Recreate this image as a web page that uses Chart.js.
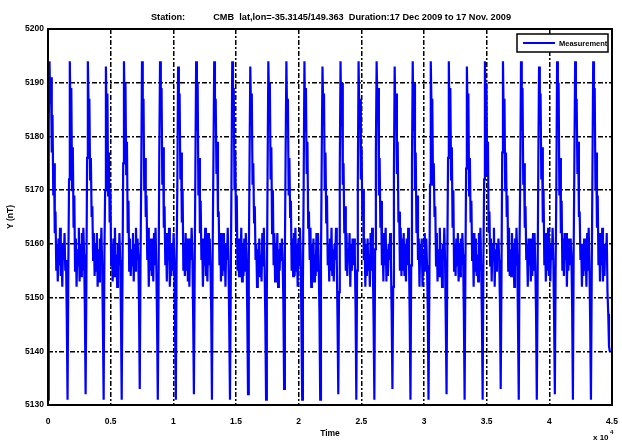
<!DOCTYPE html>
<html>
<head>
<meta charset="utf-8">
<script src="https://cdn.jsdelivr.net/npm/chart.js@4.4.0/dist/chart.umd.min.js"></script>
<style>
  html, body { margin: 0; padding: 0; background: #fff; }
  #wrap { width: 622px; height: 443px; }
</style>
</head>
<body>
<div id="wrap"><canvas id="myChart" width="622" height="443"></canvas></div>
<script>
// one sample per hour (nT)
const stepMinutes = 60;
const measurementY = [
  // day 0
  5131,5183,5194,5186,5191,5177,5184,5169,5175,5162,5166,5155,5160,5153,5161,5156,5163,5154,5158,5152,5160,5157,5162,5155,
  // day 1
  5157,5146,5131,5155,5172,5194,5182,5189,5170,5178,5163,5169,5155,5161,5152,5159,5156,5163,5153,5160,5154,5162,5155,5163,
  5158,5148,5132,5152,5176,5194,5185,5187,5172,5176,5165,5167,5157,5162,5154,5160,5155,5162,5152,5159,5153,5161,5157,5163,
  5156,5145,5131,5158,5170,5193,5181,5188,5169,5177,5164,5170,5156,5160,5153,5161,5154,5163,5155,5158,5152,5160,5156,5162,
  5157,5147,5131,5153,5175,5194,5184,5190,5173,5179,5162,5168,5155,5161,5154,5159,5156,5162,5153,5160,5155,5163,5157,5161,
  // day 5
  5158,5149,5133,5156,5173,5194,5182,5187,5170,5176,5165,5169,5157,5163,5152,5160,5155,5161,5154,5159,5153,5162,5156,5163,
  5156,5146,5131,5151,5177,5194,5186,5189,5171,5178,5163,5167,5156,5162,5153,5161,5157,5163,5152,5158,5154,5160,5155,5162,
  5157,5144,5131,5157,5171,5193,5183,5188,5172,5177,5164,5170,5155,5160,5154,5162,5155,5161,5153,5160,5152,5161,5157,5163,
  5158,5147,5132,5154,5174,5194,5181,5190,5169,5176,5162,5168,5157,5161,5152,5159,5156,5163,5154,5158,5153,5162,5156,5161,
  5156,5148,5131,5159,5176,5194,5185,5187,5173,5179,5165,5166,5156,5162,5153,5160,5154,5162,5155,5159,5152,5160,5157,5163,
  // day 10
  5157,5145,5131,5152,5172,5194,5182,5189,5170,5177,5163,5169,5155,5161,5154,5161,5156,5163,5153,5160,5154,5161,5155,5162,
  5158,5147,5132,5156,5175,5193,5184,5188,5171,5175,5164,5167,5157,5160,5152,5159,5155,5161,5154,5158,5153,5162,5156,5163,
  5156,5146,5131,5150,5173,5194,5186,5190,5172,5178,5162,5170,5156,5162,5153,5160,5157,5162,5152,5159,5155,5160,5157,5161,
  5157,5149,5133,5158,5177,5194,5183,5187,5169,5176,5165,5168,5155,5161,5154,5162,5154,5163,5155,5160,5152,5161,5156,5163,
  5158,5145,5131,5153,5171,5194,5181,5189,5173,5179,5163,5166,5157,5163,5152,5160,5156,5161,5153,5158,5154,5162,5155,5162,
  // day 15
  5156,5147,5131,5157,5176,5193,5185,5188,5170,5177,5164,5169,5156,5160,5153,5161,5155,5163,5154,5159,5153,5160,5157,5163,
  5157,5146,5132,5151,5174,5194,5182,5190,5171,5175,5162,5167,5155,5162,5154,5159,5157,5162,5152,5160,5155,5161,5156,5161,
  5158,5148,5131,5155,5172,5194,5184,5187,5172,5178,5165,5170,5157,5161,5152,5160,5154,5161,5155,5158,5152,5162,5155,5163,
  5156,5145,5131,5159,5177,5194,5186,5189,5169,5176,5163,5168,5156,5160,5153,5162,5156,5163,5153,5159,5154,5160,5157,5162,
  5157,5147,5133,5152,5173,5193,5183,5188,5173,5179,5164,5166,5155,5163,5154,5161,5155,5162,5154,5160,5153,5161,5156,5163,
  // day 20
  5158,5146,5131,5156,5175,5194,5181,5190,5170,5177,5162,5169,5157,5161,5152,5160,5157,5161,5152,5158,5155,5162,5155,5161,
  5156,5148,5131,5150,5171,5194,5185,5187,5171,5175,5165,5167,5156,5162,5153,5159,5154,5163,5155,5159,5152,5160,5157,5163,
  5157,5145,5132,5158,5176,5194,5182,5189,5172,5178,5163,5170,5155,5160,5154,5161,5156,5162,5153,5160,5154,5161,5156,5162,
  5158,5147,5131,5154,5174,5193,5184,5188,5169,5176,5164,5168,5157,5162,5152,5162,5155,5161,5154,5158,5153,5162,5155,5163,
  5156,5146,5131,5157,5172,5194,5186,5190,5173,5179,5162,5166,5156,5161,5153,5160,5157,5163,5152,5159,5155,5160,5157,5161,
  // day 25
  5157,5149,5133,5153,5177,5194,5183,5187,5170,5177,5165,5169,5155,5163,5154,5159,5154,5162,5155,5160,5152,5161,5156,5163,
  5158,5145,5131,5159,5173,5194,5181,5189,5171,5175,5163,5167,5157,5160,5152,5161,5156,5161,5153,5158,5154,5162,5155,5162,
  5156,5147,5131,5151,5175,5193,5185,5188,5172,5178,5164,5170,5156,5162,5153,5160,5155,5163,5154,5160,5153,5160,5157,5163,
  5157,5146,5132,5155,5171,5194,5182,5190,5169,5176,5162,5168,5155,5161,5154,5162,5157,5162,5152,5159,5155,5161,5156,5161,
  5158,5148,5131,5158,5176,5194,5184,5187,5173,5179,5165,5166,5157,5160,5152,5159,5154,5161,5155,5158,5152,5162,5155,5163,
  // day 30 + tail
  5156,5145,5131,5153,5174,5194,5186,5189,5170,5177,5163,5169,5156,5162,5153,5161,5156,5163,5153,5160,5154,5160,5157,5162,
  5151,5147,5141,5140
];

const xTicks = [0, 5000, 10000, 15000, 20000, 25000, 30000, 35000, 40000, 45000];
const xTickLabels = ['0', '0.5', '1', '1.5', '2', '2.5', '3', '3.5', '4', '4.5'];
const yTicks = [5130, 5140, 5150, 5160, 5170, 5180, 5190, 5200];

const titleText = 'Station:           CMB  lat,lon=-35.3145/149.363  Duration:17 Dec 2009 to 17 Nov. 2009';
const fontFam = '"Liberation Sans", Arial, sans-serif';

const points = measurementY.map((y, i) => ({ x: i * stepMinutes, y: y }));

// title, legend, box and the x10^4 mark, matlab style
const decorations = {
  id: 'decorations',
  beforeDraw(chart) {
    const ctx = chart.ctx;
    ctx.save();
    ctx.fillStyle = '#fff';
    ctx.fillRect(0, 0, chart.width, chart.height);
    ctx.restore();
  },
  afterDraw(chart) {
    const ctx = chart.ctx;
    const a = chart.chartArea;
    ctx.save();
    // box
    ctx.strokeStyle = '#000';
    ctx.lineWidth = 2;
    ctx.strokeRect(a.left, a.top, a.right - a.left, a.bottom - a.top);

    // title
    ctx.fillStyle = '#000';
    ctx.font = 'bold 9.2px ' + fontFam;
    ctx.textAlign = 'center';
    ctx.textBaseline = 'middle';
    ctx.fillText(titleText, (a.left + a.right) / 2 + 1, 17);

    // legend
    const lx = 517, ly = 34, lw = 91, lh = 18;
    ctx.fillStyle = '#fff';
    ctx.fillRect(lx, ly, lw, lh);
    ctx.lineWidth = 1.5;
    ctx.strokeStyle = '#000';
    ctx.strokeRect(lx, ly, lw, lh);
    ctx.strokeStyle = 'rgb(0,0,255)';
    ctx.lineWidth = 2;
    ctx.beginPath();
    ctx.moveTo(lx + 6, ly + lh / 2);
    ctx.lineTo(lx + 38, ly + lh / 2);
    ctx.stroke();
    ctx.fillStyle = '#000';
    ctx.font = 'bold 7.5px ' + fontFam;
    ctx.textAlign = 'left';
    ctx.fillText('Measurement', lx + 42, ly + lh / 2 + 0.5);

    // exponent
    ctx.font = 'bold 8px ' + fontFam;
    ctx.textAlign = 'left';
    ctx.fillText('x 10', 593, 438);
    ctx.font = 'bold 6px ' + fontFam;
    ctx.fillText('4', 610, 432);
    ctx.restore();
  }
};

const ctx = document.getElementById('myChart').getContext('2d');
const myChart = new Chart(ctx, {
  type: 'line',
  data: {
    datasets: [{
      label: 'Measurement',
      data: points,
      borderColor: 'rgb(0,0,255)',
      borderWidth: 2.2,
      pointRadius: 0,
      tension: 0,
      fill: false,
    }]
  },
  options: {
    responsive: false,
    animation: false,
    devicePixelRatio: 1,
    layout: { padding: { top: 29, right: 10, left: 0, bottom: 0 } },
    plugins: {
      legend: { display: false },
      tooltip: { enabled: false },
      title: { display: false },
    },
    scales: {
      x: {
        type: 'linear',
        min: 0,
        max: 45000,
        afterBuildTicks: s => { s.ticks = xTicks.map(v => ({ value: v })); },
        afterFit: s => { s.height = 38; s.paddingLeft = 0; s.paddingRight = 0; },
        ticks: {
          autoSkip: false,
          maxRotation: 0,
          padding: 12,
          color: '#000',
          font: { family: fontFam, size: 8.5, weight: 'bold' },
          callback: (v, i) => xTickLabels[i],
        },
        grid: { color: '#000', lineWidth: 1.5, drawTicks: false },
        border: { display: false, dash: [5, 2, 2, 2] },
        title: {
          display: true,
          text: 'Time',
          color: '#000',
          font: { family: fontFam, size: 8.5, weight: 'bold' },
          padding: { top: 0, bottom: 4 },
        },
      },
      y: {
        min: 5130,
        max: 5200,
        afterBuildTicks: s => { s.ticks = yTicks.map(v => ({ value: v })); },
        afterFit: s => { s.width = 48; },
        ticks: {
          padding: 4,
          color: '#000',
          font: { family: fontFam, size: 8.5, weight: 'bold' },
          callback: v => String(v),
        },
        grid: { color: '#000', lineWidth: 1.5, drawTicks: false },
        border: { display: false, dash: [5, 2, 2, 2] },
        title: {
          display: true,
          text: 'Y (nT)',
          color: '#000',
          font: { family: fontFam, size: 8.5, weight: 'bold' },
          padding: { top: 6, bottom: 0 },
        },
      }
    }
  },
  plugins: [decorations]
});
</script>
</body>
</html>
